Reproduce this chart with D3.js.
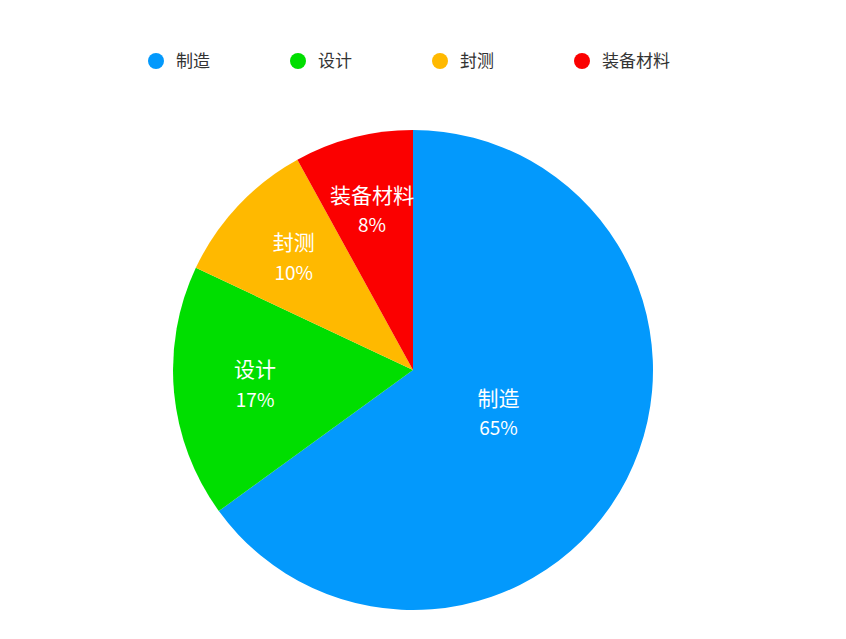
<!DOCTYPE html>
<html>
<head>
<meta charset="utf-8">
<script src="https://cdn.jsdelivr.net/npm/d3@7"></script>
<style>
  body { margin: 0; background: #fff; }
  text { font-family: "PingFang SC", "Noto Sans CJK SC", sans-serif; }
</style>
</head>
<body>
<svg id="chart" width="846" height="639"></svg>
<script>
// data
var categories = ['制造', '设计', '封测', '装备材料'];
var shares = [65, 17, 10, 8];
var colors = ['#0399fc', '#00de00', '#ffb900', '#fb0000'];

var width = 846, height = 639;
var cx = 413, cy = 370, radius = 240;

var svg = d3.select('#chart');

var data = categories.map(function (c, i) { return { name: c, value: shares[i], color: colors[i] }; });

var pie = d3.pie().sort(null).value(function (d) { return d.value; });
var arc = d3.arc().innerRadius(0).outerRadius(radius);
var arcs = pie(data);

var g = svg.append('g').attr('transform', 'translate(' + cx + ',' + cy + ')');

g.selectAll('path.slice')
  .data(arcs)
  .enter().append('path')
  .attr('class', 'slice')
  .attr('d', arc)
  .attr('fill', function (d) { return d.data.color; });

// label position: sector centroid distance, but not closer than 0.4R
function labelPos(d) {
  var theta = d.endAngle - d.startAngle;
  var mid = (d.startAngle + d.endAngle) / 2;
  var cd = 4 * radius * Math.sin(theta / 2) / (3 * theta);
  var r = Math.max(cd * 1.04, radius * 0.4);
  return [r * Math.sin(mid), -r * Math.cos(mid)];
}

var labels = g.selectAll('g.label')
  .data(arcs)
  .enter().append('g')
  .attr('class', 'label')
  .attr('transform', function (d) { var p = labelPos(d); return 'translate(' + p[0] + ',' + p[1] + ')'; });

labels.append('text')
  .attr('text-anchor', 'middle')
  .attr('y', -15)
  .attr('dy', '0.35em')
  .attr('fill', '#fff')
  .attr('font-size', 21)
  .text(function (d) { return d.data.name; });

labels.append('text')
  .attr('text-anchor', 'middle')
  .attr('y', 15)
  .attr('dy', '0.35em')
  .attr('fill', '#fff')
  .attr('font-size', 19)
  .text(function (d) { return d.data.value + '%'; });

// legend
var legendX = d3.scalePoint().domain(categories).range([156, 582]);
var legend = svg.append('g').selectAll('g')
  .data(data)
  .enter().append('g')
  .attr('transform', function (d) { return 'translate(' + legendX(d.name) + ',61)'; });

legend.append('circle')
  .attr('r', 8)
  .attr('fill', function (d) { return d.color; });

legend.append('text')
  .attr('x', 20)
  .attr('dy', '0.35em')
  .attr('font-size', 17)
  .attr('fill', '#333')
  .text(function (d) { return d.name; });
</script>
</body>
</html>
